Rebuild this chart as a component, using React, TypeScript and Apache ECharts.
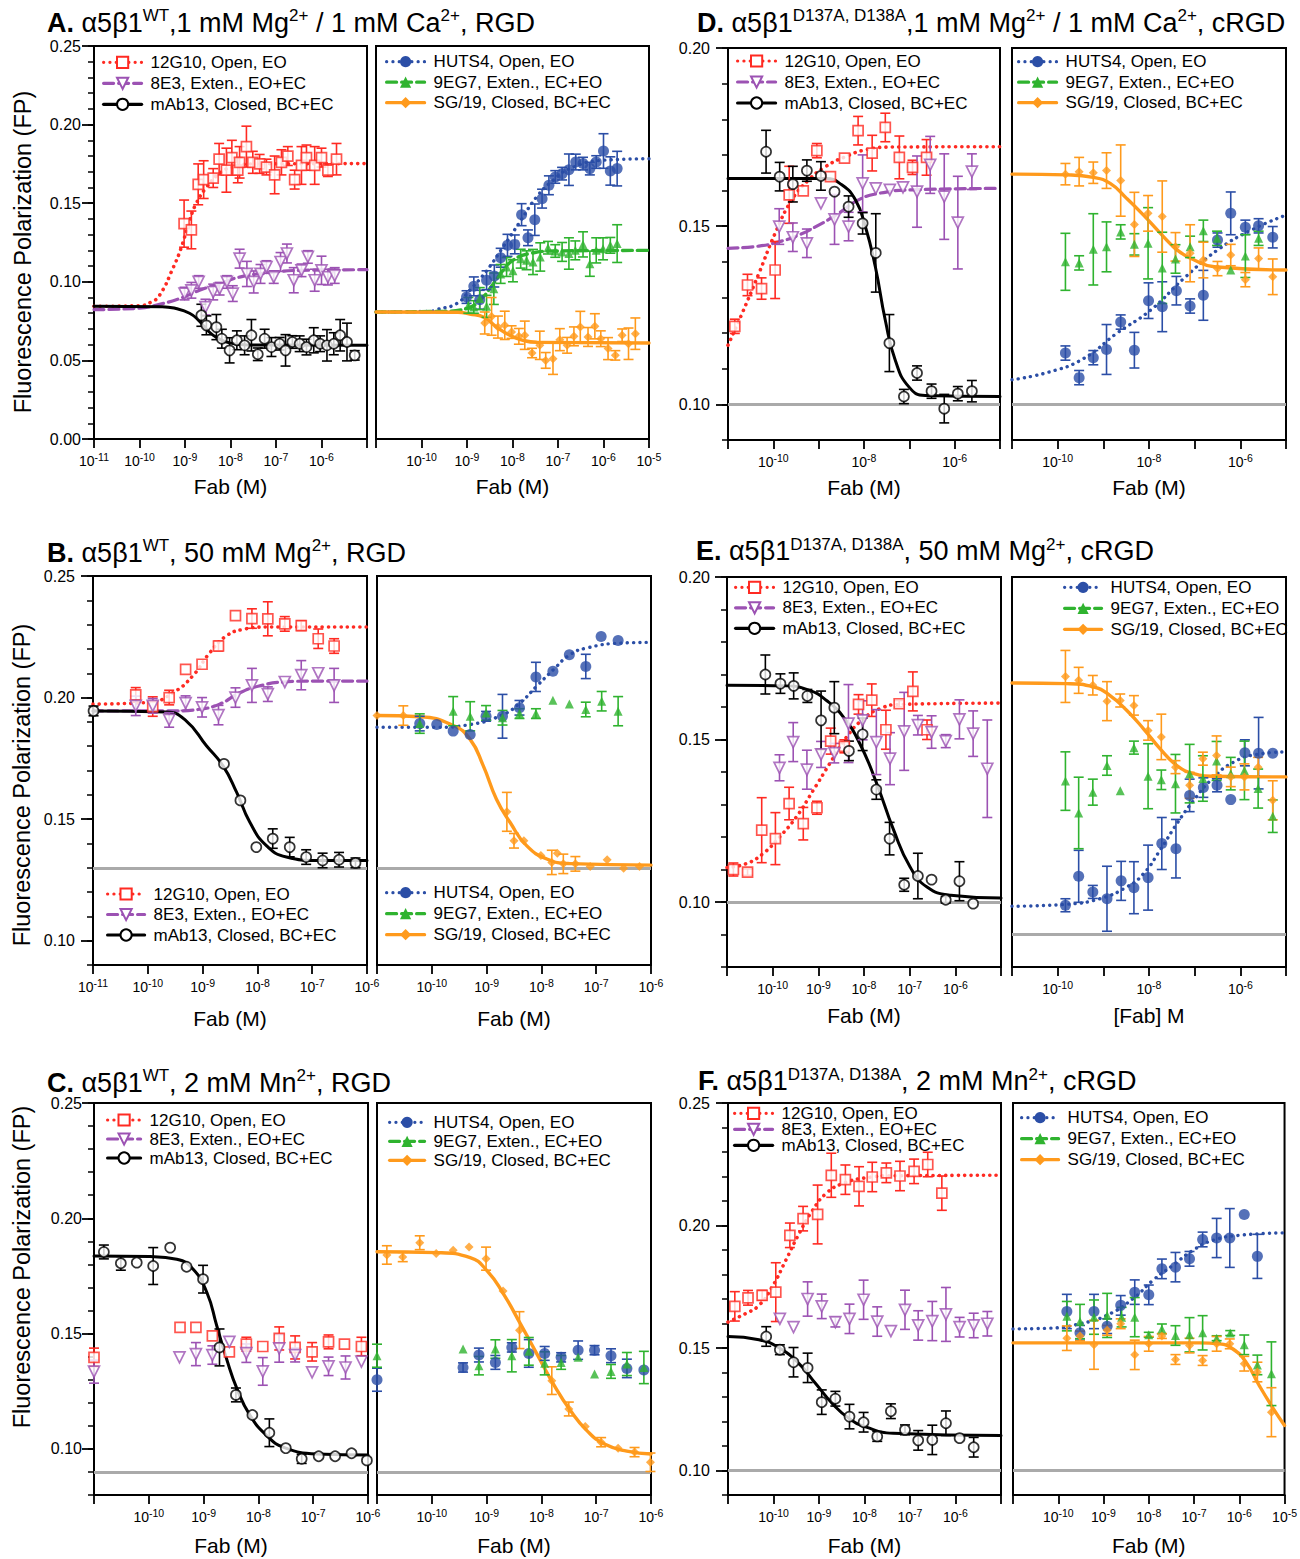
import React, { useEffect, useRef } from 'react';
import * as echarts from 'echarts';

type P = [number, number, number]; // [log10 conc (M), FP, error]
type F = [number, number]; // fitted curve [log10 conc, FP]

// ---------- Panel A (WT, 1 mM Mg / 1 mM Ca, RGD) ----------
const aL_12G10: P[] = [[-9.02,0.137,0.015],[-8.86,0.133,0.012],[-8.71,0.162,0.013],[-8.59,0.165,0.012],[-8.38,0.166,0.006],[-8.25,0.178,0.01],[-8.09,0.171,0.014],[-7.97,0.179,0.011],[-7.84,0.171,0.008],[-7.8,0.176,0.01],[-7.65,0.186,0.013],[-7.51,0.176,0.007],[-7.36,0.175,0.006],[-7.21,0.173,0.005],[-7.03,0.168,0.012],[-6.88,0.176,0.008],[-6.74,0.18,0.006],[-6.59,0.165,0.006],[-6.44,0.174,0.012],[-6.33,0.179,0.008],[-6.15,0.174,0.012],[-6.0,0.179,0.006],[-5.86,0.171,0.004],[-5.67,0.178,0.01]];
const aL_12G10_fit: F[] = [[-11,0.0844],[-10,0.0848],[-9.75,0.087],[-9.56,0.0914],[-9.26,0.109],[-9.08,0.122],[-8.9,0.139],[-8.75,0.15],[-8.53,0.16],[-8.24,0.169],[-7.95,0.173],[-7.5,0.175],[-5,0.1752]];
const aL_8E3: P[] = [[-9.01,0.0925,0.004],[-8.86,0.0946,0.005],[-8.7,0.0999,0.004],[-8.55,0.0839,0.005],[-8.38,0.0935,0.005],[-8.24,0.0956,0.004],[-8.08,0.0999,0.004],[-7.95,0.0925,0.005],[-7.8,0.1147,0.006],[-7.64,0.105,0.008],[-7.49,0.0999,0.007],[-7.34,0.105,0.006],[-7.21,0.1094,0.004],[-7.05,0.103,0.004],[-6.9,0.1126,0.006],[-6.76,0.118,0.006],[-6.61,0.101,0.008],[-6.44,0.1073,0.004],[-6.3,0.1158,0.004],[-6.15,0.101,0.007],[-6.0,0.1073,0.009],[-5.86,0.103,0.005],[-5.71,0.104,0.005]];
const aL_8E3_fit: F[] = [[-11,0.0823],[-10,0.0832],[-9.56,0.0857],[-9.12,0.0893],[-8.68,0.0946],[-8.24,0.0988],[-7.8,0.103],[-7.21,0.1056],[-6.48,0.1073],[-5,0.1077]];
const aL_mAb13: P[] = [[-8.64,0.0787,0.007],[-8.53,0.0723,0.006],[-8.31,0.0712,0.008],[-8.19,0.0638,0.006],[-8.02,0.0564,0.008],[-7.86,0.0628,0.006],[-7.69,0.0596,0.006],[-7.54,0.066,0.01],[-7.4,0.0539,0.004],[-7.25,0.0638,0.006],[-7.1,0.0585,0.006],[-6.92,0.0606,0.004],[-6.79,0.0564,0.01],[-6.64,0.0617,0.004],[-6.48,0.0606,0.005],[-6.33,0.0585,0.005],[-6.17,0.0628,0.008],[-6.03,0.0606,0.005],[-5.88,0.0596,0.01],[-5.73,0.0606,0.007],[-5.59,0.066,0.01],[-5.44,0.0617,0.012],[-5.27,0.0532,0.003]];
const aL_mAb13_fit: F[] = [[-11,0.0844],[-9.5,0.0842],[-9.2,0.083],[-8.9,0.08],[-8.7,0.0755],[-8.5,0.069],[-8.3,0.0645],[-8.0,0.061],[-7.6,0.0598],[-5,0.0596]];
const aR_HUTS4: P[] = [[-9.01,0.0903,0.004],[-8.85,0.0971,0.006],[-8.72,0.0886,0.006],[-8.57,0.101,0.006],[-8.4,0.1037,0.007],[-8.26,0.1153,0.006],[-8.11,0.1232,0.007],[-7.95,0.1238,0.006],[-7.8,0.1427,0.007],[-7.66,0.128,0.005],[-7.51,0.1395,0.01],[-7.35,0.1529,0.006],[-7.2,0.1614,0.006],[-7.06,0.1667,0.004],[-6.91,0.1688,0.004],[-6.76,0.1713,0.01],[-6.61,0.1762,0.005],[-6.45,0.1752,0.004],[-6.3,0.172,0.004],[-6.16,0.1762,0.004],[-6.0,0.1832,0.011],[-5.85,0.1705,0.009],[-5.7,0.172,0.011]];
const aR_HUTS4_fit: F[] = [[-11,0.0808],[-9.8,0.0812],[-9.67,0.0823],[-9.23,0.0861],[-8.94,0.0946],[-8.57,0.107],[-8.21,0.122],[-7.84,0.138],[-7.47,0.154],[-7.11,0.1645],[-6.74,0.172],[-6.01,0.1773],[-5,0.1783]];
const aR_9EG7: P[] = [[-8.97,0.085,0.005],[-8.85,0.084,0.004],[-8.72,0.0893,0.007],[-8.57,0.0844,0.007],[-8.41,0.0956,0.01],[-8.26,0.105,0.006],[-8.13,0.1094,0.006],[-7.99,0.107,0.007],[-7.82,0.1147,0.006],[-7.69,0.1137,0.006],[-7.55,0.1126,0.008],[-7.39,0.1158,0.009],[-7.22,0.1217,0.004],[-7.06,0.1196,0.004],[-6.91,0.119,0.006],[-6.76,0.118,0.01],[-6.62,0.12,0.006],[-6.45,0.1238,0.008],[-6.3,0.1115,0.008],[-6.16,0.12,0.008],[-6.01,0.121,0.007],[-5.85,0.1232,0.005],[-5.7,0.1243,0.012]];
const aR_9EG7_fit: F[] = [[-11,0.0808],[-9.5,0.0812],[-9.01,0.083],[-8.72,0.0882],[-8.42,0.0988],[-8.21,0.1073],[-7.99,0.1137],[-7.62,0.118],[-7.04,0.1196],[-5,0.12]];
const aR_SG19: P[] = [[-8.61,0.0738,0.007],[-8.46,0.078,0.012],[-8.32,0.0712,0.007],[-8.17,0.0723,0.009],[-8.02,0.068,0.004],[-7.86,0.0653,0.005],[-7.73,0.066,0.009],[-7.57,0.0547,0.003],[-7.4,0.0596,0.009],[-7.27,0.05,0.005],[-7.11,0.0511,0.01],[-6.96,0.0632,0.007],[-6.8,0.0596,0.005],[-6.65,0.0653,0.006],[-6.51,0.0712,0.01],[-6.34,0.0649,0.006],[-6.19,0.0717,0.008],[-6.06,0.0638,0.005],[-5.9,0.0575,0.007],[-5.74,0.0532,0.003],[-5.59,0.066,0.004],[-5.45,0.0606,0.01],[-5.3,0.067,0.01]];
const aR_SG19_fit: F[] = [[-11,0.0808],[-9.2,0.0806],[-8.94,0.0795],[-8.64,0.0776],[-8.35,0.0712],[-8.06,0.066],[-7.77,0.0628],[-7.47,0.0615],[-5,0.0611]];

// ---------- Panel B (WT, 50 mM Mg, RGD) ----------
const bL_12G10: P[] = [[-10.22,0.2011,0.003],[-9.91,0.1963,0.004],[-9.61,0.2,0.003],[-9.31,0.2116,0],[-9.01,0.2137,0],[-8.71,0.2212,0.002],[-8.4,0.2337,0],[-8.1,0.2325,0.004],[-7.81,0.2324,0.007],[-7.5,0.2303,0.003],[-7.2,0.2296,0.002],[-6.89,0.2242,0.004],[-6.6,0.2212,0.003]];
const bL_12G10_fit: F[] = [[-11,0.1973],[-9.97,0.198],[-9.54,0.202],[-9.18,0.2089],[-8.87,0.2184],[-8.57,0.2253],[-8.27,0.228],[-7.84,0.229],[-6,0.229]];
const bL_8E3: P[] = [[-10.22,0.1966,0.004],[-9.91,0.1966,0.003],[-9.61,0.1908,0.003],[-9.31,0.1977,0.003],[-9.01,0.196,0.004],[-8.71,0.1928,0.004],[-8.4,0.2,0.004],[-8.1,0.205,0.007],[-7.81,0.2014,0.003],[-7.5,0.2064,0],[-7.2,0.2092,0.006],[-6.89,0.21,0],[-6.6,0.205,0.007]];
const bL_8E3_fit: F[] = [[-11,0.1945],[-9.5,0.1945],[-9.05,0.1952],[-8.69,0.1973],[-8.32,0.202],[-7.96,0.2048],[-7.53,0.2064],[-6.92,0.2068],[-6,0.2068]];
const bL_mAb13: P[] = [[-10.99,0.1945,0.002],[-8.61,0.1727,0],[-8.31,0.1577,0],[-8.02,0.1385,0],[-7.72,0.142,0.004],[-7.41,0.1385,0.004],[-7.11,0.1344,0.003],[-6.81,0.133,0.003],[-6.51,0.1333,0.003],[-6.21,0.132,0.002]];
const bL_mAb13_fit: F[] = [[-11,0.1945],[-9.66,0.1941],[-9.3,0.1904],[-8.93,0.1802],[-8.63,0.172],[-8.38,0.1611],[-8.14,0.1488],[-7.84,0.1392],[-7.47,0.1344],[-6.92,0.133],[-6,0.133]];
const bR_HUTS4: P[] = [[-10.22,0.1893,0.003],[-9.91,0.1889,0],[-9.61,0.1862,0],[-9.3,0.1848,0],[-9.01,0.1923,0.002],[-8.71,0.1923,0.009],[-8.4,0.1958,0.003],[-8.1,0.2085,0.006],[-7.79,0.2108,0],[-7.49,0.2176,0],[-7.19,0.2128,0.005],[-6.91,0.2251,0],[-6.6,0.2235,0]];
const bR_HUTS4_fit: F[] = [[-11,0.1878],[-9.91,0.1878],[-9.3,0.1889],[-8.7,0.193],[-8.39,0.1978],[-8.09,0.2046],[-7.78,0.2115],[-7.48,0.2176],[-7.17,0.2204],[-6.56,0.2224],[-6,0.2227]];
const bR_9EG7: P[] = [[-10.22,0.1893,0.004],[-9.61,0.1944,0.006],[-9.3,0.1923,0.006],[-9.01,0.1937,0.003],[-8.71,0.1917,0.003],[-8.4,0.1934,0.002],[-8.1,0.1934,0.002],[-7.79,0.1989,0],[-7.49,0.1974,0],[-7.19,0.1951,0.003],[-6.9,0.1985,0.004],[-6.6,0.1944,0.006]];
const bR_SG19: P[] = [[-11.0,0.1926,0],[-10.52,0.1926,0.004],[-8.63,0.153,0.008],[-8.5,0.1411,0.003],[-8.32,0.1411,0],[-8.01,0.135,0],[-7.81,0.1322,0.005],[-7.71,0.136,0],[-7.6,0.1316,0.004],[-7.38,0.1316,0.003],[-7.11,0.1305,0],[-6.8,0.1333,0],[-6.5,0.1298,0],[-6.21,0.1305,0]];
const bR_SG19_fit: F[] = [[-11,0.1926],[-10.22,0.1921],[-9.61,0.1885],[-9.3,0.1828],[-9.06,0.1719],[-8.82,0.1582],[-8.57,0.1486],[-8.27,0.1391],[-7.9,0.1336],[-7.48,0.1317],[-6,0.1311]];

// ---------- Panel C (WT, 2 mM Mn, RGD) ----------
const cL_mAb13: P[] = [[-10.82,0.1854,0.003],[-10.51,0.1805,0.003],[-10.22,0.1808,0],[-9.92,0.1793,0.008],[-9.61,0.1873,0],[-9.31,0.179,0],[-9.01,0.1736,0.006],[-8.71,0.144,0.008],[-8.41,0.1234,0.003],[-8.11,0.1147,0],[-7.8,0.107,0.006],[-7.5,0.1003,0],[-7.21,0.0957,0.002],[-6.9,0.0968,0],[-6.6,0.0968,0],[-6.3,0.0981,0],[-6.02,0.095,0]];
const cL_mAb13_fit: F[] = [[-11,0.1837],[-9.98,0.1834],[-9.49,0.1822],[-9.19,0.1779],[-8.94,0.1678],[-8.76,0.1534],[-8.58,0.139],[-8.39,0.126],[-8.15,0.1144],[-7.85,0.1058],[-7.54,0.1007],[-6.93,0.0978],[-6,0.0974]];
const cL_12G10: P[] = [[-11.0,0.1397,0.004],[-9.43,0.1527,0],[-9.14,0.1527,0],[-8.84,0.149,0],[-8.53,0.1421,0],[-8.22,0.1454,0.003],[-7.92,0.1444,0],[-7.62,0.1479,0.005],[-7.33,0.144,0.005],[-7.02,0.1421,0.004],[-6.72,0.1464,0.003],[-6.43,0.1454,0],[-6.12,0.1444,0.004]];
const cL_8E3: P[] = [[-11.0,0.1335,0.005],[-9.44,0.1397,0],[-9.14,0.1411,0.005],[-8.84,0.1407,0.004],[-8.53,0.1464,0],[-8.22,0.1415,0.004],[-7.92,0.1336,0.006],[-7.62,0.1436,0.006],[-7.33,0.1407,0.003],[-7.02,0.1332,0],[-6.72,0.1358,0.004],[-6.41,0.1353,0.005],[-6.12,0.1378,0]];
const cR_SG19: P[] = [[-10.82,0.1841,0.004],[-10.53,0.1832,0.002],[-10.22,0.1894,0.003],[-9.92,0.1847,0],[-9.61,0.1861,0],[-9.32,0.1876,0],[-9.01,0.1825,0.005],[-8.7,0.1685,0],[-8.4,0.1515,0.008],[-7.81,0.1296,0.006],[-7.5,0.1173,0.003],[-7.2,0.1097,0],[-6.91,0.1029,0.002],[-6.6,0.1003,0],[-6.3,0.0986,0.002],[-6.01,0.0942,0.004]];
const cR_SG19_fit: F[] = [[-11,0.1855],[-9.91,0.1851],[-9.3,0.1829],[-8.99,0.1772],[-8.69,0.1671],[-8.38,0.1541],[-8.08,0.1411],[-7.78,0.1281],[-7.47,0.1166],[-7.17,0.1079],[-6.86,0.1022],[-6.44,0.099],[-6,0.0978]];
const cR_HUTS4: P[] = [[-11.0,0.13,0.005],[-9.43,0.1353,0.002],[-9.14,0.1407,0.003],[-8.84,0.1375,0.003],[-8.54,0.144,0.002],[-8.23,0.1414,0.006],[-7.94,0.1414,0.003],[-7.64,0.1397,0.002],[-7.33,0.1428,0.004],[-7.03,0.1428,0.002],[-6.73,0.1404,0.003],[-6.44,0.1349,0.004],[-6.13,0.1342,0]];
const cR_9EG7: P[] = [[-11.0,0.1404,0.005],[-9.43,0.1433,0],[-9.14,0.1361,0.004],[-8.84,0.1433,0.004],[-8.54,0.1404,0.007],[-8.23,0.1423,0.006],[-7.94,0.1371,0.005],[-7.64,0.1375,0.003],[-7.33,0.1397,0],[-7.03,0.1325,0],[-6.73,0.1336,0.003],[-6.44,0.1368,0.005],[-6.13,0.1353,0.007]];

// ---------- Panel D (D137A/D138A, 1 mM Mg / 1 mM Ca, cRGD) ----------
const dL_12G10: P[] = [[-10.85,0.1219,0.002],[-10.57,0.1335,0.003],[-10.26,0.1325,0.003],[-9.96,0.1377,0.008],[-9.65,0.1588,0.008],[-9.34,0.1599,0],[-9.04,0.1712,0.002],[-8.74,0.1639,0],[-8.43,0.1691,0],[-8.13,0.1768,0.004],[-7.82,0.1705,0.005],[-7.53,0.1777,0.004],[-7.22,0.1693,0.006],[-6.93,0.1665,0.002],[-6.62,0.1693,0.005]];
const dL_12G10_fit: F[] = [[-11,0.1166],[-10.69,0.1255],[-10.32,0.1367],[-9.96,0.148],[-9.59,0.1574],[-9.22,0.163],[-8.85,0.1667],[-8.41,0.1695],[-7.97,0.1714],[-7.38,0.1722],[-5,0.1723]];
const dL_8E3: P[] = [[-9.87,0.1499,0.005],[-9.57,0.1469,0.004],[-9.26,0.1452,0.004],[-8.95,0.1564,0],[-8.65,0.1519,0.007],[-8.34,0.1499,0.004],[-8.03,0.162,0.008],[-7.74,0.1606,0],[-7.43,0.1602,0],[-7.14,0.1609,0],[-6.83,0.1597,0.01],[-6.54,0.1672,0.008],[-6.23,0.1583,0.012],[-5.93,0.151,0.013],[-5.62,0.1653,0.005]];
const dL_8E3_fit: F[] = [[-11,0.1438],[-10.32,0.1444],[-9.88,0.1456],[-9.44,0.1475],[-9.0,0.1503],[-8.56,0.1536],[-8.12,0.1574],[-7.68,0.1592],[-6.94,0.1602],[-5,0.1606]];
const dL_mAb13: P[] = [[-10.16,0.1709,0.006],[-9.86,0.1639,0.004],[-9.57,0.1618,0.005],[-9.26,0.1656,0.003],[-8.95,0.1641,0.004],[-8.65,0.1597,0],[-8.34,0.1555,0.003],[-8.03,0.1508,0.003],[-7.74,0.1425,0.011],[-7.44,0.1172,0.008],[-7.12,0.1022,0.002],[-6.83,0.1088,0.002],[-6.51,0.1037,0.002],[-6.23,0.0988,0.004],[-5.93,0.103,0.002],[-5.62,0.1037,0.003]];
const dL_mAb13_fit: F[] = [[-11,0.1634],[-8.85,0.1634],[-8.49,0.1616],[-8.19,0.1574],[-7.97,0.1499],[-7.75,0.1386],[-7.53,0.1236],[-7.31,0.1124],[-7.01,0.1049],[-6.65,0.1025],[-5,0.1022]];
const dR_SG19: P[] = [[-9.83,0.1646,0.003],[-9.53,0.1653,0.004],[-9.22,0.165,0.003],[-8.93,0.1656,0.005],[-8.62,0.1628,0.01],[-8.32,0.1505,0.009],[-8.02,0.1536,0.005],[-7.71,0.1527,0.01],[-7.42,0.1442,0.004],[-7.1,0.1424,0.008],[-6.81,0.1405,0.005],[-6.5,0.1381,0.002],[-6.21,0.1419,0.003],[-5.89,0.135,0.002],[-5.6,0.1409,0.003],[-5.29,0.1358,0.005]];
const dR_SG19_fit: F[] = [[-11,0.1646],[-9.81,0.1644],[-9.22,0.1637],[-8.85,0.162],[-8.49,0.1578],[-8.12,0.1531],[-7.75,0.148],[-7.38,0.1433],[-7.01,0.1405],[-6.57,0.1386],[-5,0.1377]];
const dR_9EG7: P[] = [[-9.83,0.14,0.008],[-9.53,0.1397,0.002],[-9.22,0.1435,0.01],[-8.93,0.1442,0.007],[-8.62,0.1484,0.002],[-8.32,0.1449,0.003],[-8.02,0.1452,0.01],[-7.71,0.1383,0.01],[-7.42,0.1408,0.004],[-7.1,0.1442,0.003],[-6.81,0.1487,0.003],[-6.51,0.1466,0.002],[-6.21,0.1377,0],[-5.89,0.1416,0.006],[-5.6,0.1466,0.002]];
const dR_HUTS4: P[] = [[-9.83,0.1144,0.002],[-9.53,0.1075,0.002],[-9.22,0.1131,0.002],[-8.93,0.1154,0.007],[-8.62,0.1231,0.002],[-8.32,0.1152,0.005],[-8.01,0.1291,0.005],[-7.71,0.1274,0.007],[-7.4,0.1319,0.004],[-7.1,0.1276,0.002],[-6.81,0.1306,0.007],[-6.5,0.1461,0.002],[-6.21,0.1536,0.006],[-5.89,0.1497,0.002],[-5.6,0.1501,0.002],[-5.29,0.1469,0.003]];
const dR_HUTS4_fit: F[] = [[-11,0.1069],[-10.18,0.1091],[-9.44,0.1128],[-8.71,0.1199],[-7.97,0.1264],[-7.24,0.1353],[-6.5,0.1433],[-5.76,0.1489],[-5,0.1531]];

// ---------- Panel E (D137A/D138A, 50 mM Mg, cRGD) ----------
const eL_12G10: P[] = [[-10.86,0.11,0.002],[-10.55,0.1092,0.001],[-10.24,0.1221,0.01],[-9.94,0.1195,0.008],[-9.64,0.1303,0.005],[-9.33,0.1241,0.005],[-9.03,0.129,0.002],[-8.73,0.1495,0.004],[-8.43,0.1479,0.002],[-8.12,0.1608,0.003],[-7.83,0.1621,0.005],[-7.52,0.153,0.006],[-7.23,0.161,0.001],[-6.93,0.1648,0.006],[-6.62,0.153,0.003]];
const eL_12G10_fit: F[] = [[-11,0.1106],[-10.58,0.1118],[-10.21,0.1149],[-9.85,0.12],[-9.48,0.1262],[-9.11,0.1344],[-8.75,0.1426],[-8.38,0.1508],[-8.01,0.1564],[-7.65,0.1595],[-7.21,0.1608],[-5,0.1612]];
const eL_8E3: P[] = [[-9.85,0.1413,0.004],[-9.55,0.1492,0.006],[-9.25,0.1407,0.006],[-8.94,0.1454,0.004],[-8.65,0.1458,0.003],[-8.34,0.1549,0.012],[-8.03,0.1559,0.006],[-7.73,0.1492,0.01],[-7.43,0.1441,0.008],[-7.12,0.1525,0.012],[-6.82,0.1544,0.003],[-6.52,0.1523,0.005],[-6.21,0.1495,0.002],[-5.91,0.1562,0.006],[-5.61,0.1518,0.007],[-5.3,0.141,0.015]];
const eL_mAb13: P[] = [[-10.16,0.17,0.006],[-9.83,0.1672,0.003],[-9.54,0.1665,0.004],[-9.24,0.1634,0.002],[-8.94,0.1559,0.009],[-8.65,0.1598,0.008],[-8.33,0.1465,0.003],[-8.03,0.1516,0.005],[-7.73,0.1346,0.003],[-7.44,0.1195,0.005],[-7.12,0.1053,0.002],[-6.82,0.108,0.007],[-6.52,0.1069,0],[-6.21,0.1007,0.001],[-5.91,0.1064,0.006],[-5.61,0.0995,0]];
const eL_mAb13_fit: F[] = [[-11,0.1667],[-9.7,0.1665],[-9.19,0.1651],[-8.82,0.162],[-8.45,0.1569],[-8.09,0.1487],[-7.72,0.1364],[-7.35,0.1221],[-6.99,0.1108],[-6.62,0.1046],[-6.1,0.1021],[-5,0.1012]];
const eR_SG19: P[] = [[-9.83,0.1694,0.008],[-9.54,0.1682,0.004],[-9.23,0.1667,0.003],[-8.92,0.1618,0.006],[-8.63,0.162,0.002],[-8.33,0.1605,0.003],[-8.02,0.1528,0.003],[-7.73,0.1508,0.007],[-7.42,0.1415,0.002],[-7.11,0.1359,0.004],[-6.82,0.1441,0.002],[-6.52,0.1451,0.006],[-6.21,0.1385,0.003],[-5.91,0.1385,0.004],[-5.61,0.1415,0.003],[-5.29,0.1313,0.006]];
const eR_SG19_fit: F[] = [[-11,0.1674],[-9.81,0.1672],[-9.22,0.1662],[-8.86,0.1636],[-8.49,0.159],[-8.12,0.1533],[-7.76,0.1472],[-7.39,0.142],[-7.02,0.1395],[-6.58,0.1387],[-5,0.1385]];
const eR_9EG7: P[] = [[-9.83,0.1372,0.009],[-9.54,0.1274,0.011],[-9.23,0.1338,0.004],[-8.92,0.142,0.003],[-8.63,0.1342,0],[-8.33,0.1475,0.002],[-8.02,0.1387,0.01],[-7.73,0.1376,0.003],[-7.42,0.1364,0.009],[-7.11,0.1395,0.009],[-6.82,0.138,0.007],[-6.52,0.1434,0.006],[-6.21,0.1395,0.005],[-5.91,0.1405,0.009],[-5.61,0.1349,0.006],[-5.29,0.1264,0.005]];
const eR_HUTS4: P[] = [[-9.83,0.099,0.002],[-9.54,0.1079,0.008],[-9.23,0.1031,0.002],[-8.92,0.101,0.01],[-8.61,0.1065,0.006],[-8.33,0.1044,0.008],[-8.02,0.1075,0.01],[-7.72,0.118,0.008],[-7.41,0.1164,0.009],[-7.11,0.1328,0.005],[-6.81,0.1352,0.003],[-6.51,0.1359,0.002],[-6.21,0.1315,0],[-5.9,0.1459,0.004],[-5.6,0.1458,0.011],[-5.29,0.1458,0]];
const eR_HUTS4_fit: F[] = [[-11,0.0987],[-9.81,0.0993],[-9.08,0.101],[-8.49,0.1046],[-8.12,0.1087],[-7.76,0.1159],[-7.39,0.1241],[-7.02,0.1313],[-6.65,0.1374],[-6.14,0.1431],[-5.55,0.1456],[-5,0.1462]];

// ---------- Panel F (D137A/D138A, 2 mM Mn, cRGD) ----------
const fL_12G10: P[] = [[-10.85,0.167,0.006],[-10.56,0.1705,0.003],[-10.25,0.1715,0.002],[-9.95,0.1728,0.012],[-9.64,0.196,0.005],[-9.35,0.2028,0.005],[-9.03,0.2045,0.012],[-8.73,0.2205,0.009],[-8.42,0.2187,0.006],[-8.12,0.216,0.008],[-7.83,0.2198,0.006],[-7.52,0.2215,0.004],[-7.22,0.2202,0.006],[-6.91,0.2221,0.005],[-6.61,0.2249,0.005],[-6.3,0.2132,0.007]];
const fL_12G10_fit: F[] = [[-11,0.1606],[-10.62,0.164],[-10.32,0.1674],[-10.03,0.1749],[-9.73,0.1858],[-9.44,0.1966],[-9.14,0.2062],[-8.85,0.213],[-8.48,0.2171],[-7.96,0.2195],[-7.37,0.2203],[-5,0.2205]];
const fL_8E3: P[] = [[-9.86,0.1619,0],[-9.56,0.1585,0],[-9.25,0.17,0.007],[-8.94,0.167,0.005],[-8.64,0.1606,0.002],[-8.33,0.1619,0.006],[-8.02,0.1697,0.008],[-7.72,0.1608,0.006],[-7.42,0.1569,0],[-7.11,0.1656,0.008],[-6.82,0.1592,0.006],[-6.51,0.161,0.008],[-6.21,0.1637,0.011],[-5.91,0.1585,0.004],[-5.6,0.1592,0.005],[-5.3,0.1599,0.005]];
const fL_mAb13: P[] = [[-10.16,0.1547,0.004],[-9.86,0.1493,0.002],[-9.56,0.1442,0.006],[-9.25,0.1419,0.006],[-8.94,0.1279,0.005],[-8.64,0.1293,0.003],[-8.33,0.122,0.005],[-8.02,0.1197,0.004],[-7.72,0.1139,0.002],[-7.42,0.1242,0.003],[-7.11,0.1166,0.002],[-6.82,0.1123,0.004],[-6.51,0.1125,0.006],[-6.21,0.1193,0.005],[-5.91,0.1132,0],[-5.6,0.1095,0.004]];
const fL_mAb13_fit: F[] = [[-11,0.1547],[-10.32,0.1534],[-9.88,0.1501],[-9.44,0.1436],[-9.07,0.1354],[-8.7,0.1272],[-8.33,0.1211],[-7.96,0.1177],[-7.37,0.1152],[-5,0.1143]];
const fR_HUTS4: P[] = [[-9.81,0.1649,0.007],[-9.52,0.1562,0.003],[-9.21,0.1649,0.007],[-8.92,0.1589,0.003],[-8.62,0.1674,0.004],[-8.31,0.1728,0.005],[-8.0,0.1717,0.004],[-7.71,0.1823,0.004],[-7.41,0.183,0.006],[-7.1,0.1864,0.003],[-6.81,0.1943,0.003],[-6.5,0.1949,0.008],[-6.21,0.1949,0.012],[-5.89,0.2045,0],[-5.6,0.1874,0.009]];
const fR_HUTS4_fit: F[] = [[-11,0.1578],[-10.18,0.1581],[-9.52,0.1599],[-8.93,0.1633],[-8.35,0.1701],[-7.91,0.1776],[-7.47,0.1837],[-7.03,0.1898],[-6.59,0.1939],[-6.0,0.196],[-5,0.197]];
const fR_9EG7: P[] = [[-9.81,0.163,0.006],[-9.52,0.1608,0.007],[-9.21,0.1626,0.007],[-8.92,0.1633,0.009],[-8.6,0.1626,0.004],[-8.31,0.1626,0.008],[-8.0,0.1554,0.001],[-7.71,0.1578,0.002],[-7.41,0.1551,0.004],[-7.1,0.1554,0.007],[-6.81,0.1562,0.007],[-6.5,0.154,0.001],[-6.2,0.1561,0.001],[-5.89,0.1513,0.004],[-5.6,0.1431,0.004],[-5.29,0.1395,0.013]];
const fR_SG19: P[] = [[-9.81,0.154,0.005],[-9.52,0.1549,0.002],[-9.21,0.1513,0.01],[-8.92,0.1572,0.002],[-8.62,0.1599,0.002],[-8.31,0.1472,0.006],[-8.0,0.1517,0.003],[-7.71,0.1549,0.001],[-7.41,0.1453,0.002],[-7.1,0.151,0.003],[-6.81,0.1449,0.002],[-6.5,0.1517,0.003],[-6.21,0.1517,0.002],[-5.89,0.1436,0.003],[-5.6,0.1402,0.004],[-5.29,0.1238,0.01]];
const fR_SG19_fit: F[] = [[-11,0.1521],[-6.88,0.1521],[-6.44,0.1517],[-6.15,0.1497],[-5.85,0.1442],[-5.56,0.1347],[-5.27,0.1259],[-5,0.1184]];

// baselines (grey reference lines)
const baseB = 0.132;
const baseC = 0.0895;
const baseD = 0.1005;
const baseE_L = 0.1005;
const baseE_R = 0.0916;
const baseF = 0.1008;

// ---------- styles ----------
type Key = 'r' | 'p' | 'k' | 'b' | 'g' | 'o';
const FONT = '"Liberation Sans", Arial, Helvetica, sans-serif';
const DOT = [0.1, 6.2];
const DASH = [10, 5];
const ST: Record<Key, any> = {
  r: { name: '12G10, Open, EO', color: '#ff2a22', sym: 'rect', hollow: true, size: 10, rot: 0, dash: DOT, width: 3.6, leg: 'emptyRect' },
  p: { name: '8E3, Exten., EO+EC', color: '#9c52b3', sym: 'triangle', hollow: true, size: 11, rot: 180, dash: DASH, width: 3.2, leg: 'emptyTriangle' },
  k: { name: 'mAb13, Closed, BC+EC', color: '#000000', sym: 'circle', hollow: true, size: 10, rot: 0, dash: 'solid', width: 3, leg: 'emptyCircle' },
  b: { name: 'HUTS4, Open, EO', color: '#2b4ea6', sym: 'circle', hollow: false, size: 11, rot: 0, dash: DOT, width: 3.4, leg: 'circle' },
  g: { name: '9EG7, Exten., EC+EO', color: '#2fb32f', sym: 'triangle', hollow: false, size: 9, rot: 0, dash: DASH, width: 3.4, leg: 'triangle' },
  o: { name: 'SG/19, Closed, BC+EC', color: '#ff9a1c', sym: 'diamond', hollow: false, size: 9, rot: 0, dash: 'solid', width: 3.4, leg: 'diamond' },
};

interface SDef { k: Key; pts: P[]; fit?: F[] }
interface Sub {
  box: [number, number, number, number]; // left, top, width, height
  xmax: number; labels: number[]; xName: string; nameGap: number;
  legend: [number, number, number, number]; // left, top, gap, itemWidth
  legKeys: Key[]; baseline?: number; series: SDef[];
}
interface Panel { ymin: number; ymax: number; majors: number[]; lblMargin: number; title: string; tpos: [number, number]; yName?: [number, number]; subs: Sub[] }

const LEFT_KEYS: Key[] = ['r', 'p', 'k'];
const RIGHT_KEYS: Key[] = ['b', 'g', 'o'];

const PANELS: Panel[] = [
  {
    ymin: 0, ymax: 0.25, majors: [0, 0.05, 0.1, 0.15, 0.2, 0.25], lblMargin: 13,
    title: '{b|A.} α5β1{s|WT},1 mM Mg{s|2+} / 1 mM Ca{s|2+}, RGD', tpos: [47, 22.5], yName: [22.5, 252],
    subs: [
      { box: [94, 46, 273, 393], xmax: 1e-5, labels: [-11, -10, -9, -8, -7, -6], xName: 'Fab (M)', nameGap: 37,
        legend: [102, 53.8, 4, 38], legKeys: LEFT_KEYS,
        series: [{ k: 'r', pts: aL_12G10, fit: aL_12G10_fit }, { k: 'p', pts: aL_8E3, fit: aL_8E3_fit }, { k: 'k', pts: aL_mAb13, fit: aL_mAb13_fit }] },
      { box: [376, 46, 273, 393], xmax: 1e-5, labels: [-10, -9, -8, -7, -6, -5], xName: 'Fab (M)', nameGap: 37,
        legend: [385, 53.2, 3.5, 38], legKeys: RIGHT_KEYS,
        series: [{ k: 'b', pts: aR_HUTS4, fit: aR_HUTS4_fit }, { k: 'g', pts: aR_9EG7, fit: aR_9EG7_fit }, { k: 'o', pts: aR_SG19, fit: aR_SG19_fit }] },
    ],
  },
  {
    ymin: 0.09, ymax: 0.25, majors: [0.1, 0.15, 0.2, 0.25], lblMargin: 18,
    title: '{b|B.} α5β1{s|WT}, 50 mM Mg{s|2+}, RGD', tpos: [47, 552.5], yName: [22, 785],
    subs: [
      { box: [93, 576, 274, 389], xmax: 1e-6, labels: [-11, -10, -9, -8, -7, -6], xName: 'Fab (M)', nameGap: 43,
        legend: [106, 885.5, 3.5, 37], legKeys: LEFT_KEYS, baseline: baseB,
        series: [{ k: 'r', pts: bL_12G10, fit: bL_12G10_fit }, { k: 'p', pts: bL_8E3, fit: bL_8E3_fit }, { k: 'k', pts: bL_mAb13, fit: bL_mAb13_fit }] },
      { box: [377, 576, 274, 389], xmax: 1e-6, labels: [-10, -9, -8, -7, -6], xName: 'Fab (M)', nameGap: 43,
        legend: [385, 884.2, 4, 38], legKeys: RIGHT_KEYS, baseline: baseB,
        series: [{ k: 'b', pts: bR_HUTS4, fit: bR_HUTS4_fit }, { k: 'g', pts: bR_9EG7 }, { k: 'o', pts: bR_SG19, fit: bR_SG19_fit }] },
    ],
  },
  {
    ymin: 0.08, ymax: 0.25, majors: [0.1, 0.15, 0.2, 0.25], lblMargin: 12,
    title: '{b|C.} α5β1{s|WT}, 2 mM Mn{s|2+}, RGD', tpos: [47, 1082.5], yName: [22, 1267],
    subs: [
      { box: [94, 1103, 274, 392], xmax: 1e-6, labels: [-10, -9, -8, -7, -6], xName: 'Fab (M)', nameGap: 40,
        legend: [106, 1111.5, 2, 33], legKeys: LEFT_KEYS, baseline: baseC,
        series: [{ k: 'r', pts: cL_12G10 }, { k: 'p', pts: cL_8E3 }, { k: 'k', pts: cL_mAb13, fit: cL_mAb13_fit }] },
      { box: [377, 1103, 274, 392], xmax: 1e-6, labels: [-10, -9, -8, -7, -6], xName: 'Fab (M)', nameGap: 40,
        legend: [388, 1113.8, 2, 35], legKeys: RIGHT_KEYS, baseline: baseC,
        series: [{ k: 'b', pts: cR_HUTS4 }, { k: 'g', pts: cR_9EG7 }, { k: 'o', pts: cR_SG19, fit: cR_SG19_fit }] },
    ],
  },
  {
    ymin: 0.09, ymax: 0.2, majors: [0.1, 0.15, 0.2], lblMargin: 18,
    title: '{b|D.} α5β1{s|D137A, D138A},1 mM Mg{s|2+} / 1 mM Ca{s|2+}, cRGD', tpos: [697, 22.5],
    subs: [
      { box: [728, 48, 272, 392], xmax: 1e-5, labels: [-10, -8, -6], xName: 'Fab (M)', nameGap: 37,
        legend: [736, 52.5, 4, 38], legKeys: LEFT_KEYS, baseline: baseD,
        series: [{ k: 'r', pts: dL_12G10, fit: dL_12G10_fit }, { k: 'p', pts: dL_8E3, fit: dL_8E3_fit }, { k: 'k', pts: dL_mAb13, fit: dL_mAb13_fit }] },
      { box: [1012, 48, 274, 392], xmax: 1e-5, labels: [-10, -8, -6], xName: 'Fab (M)', nameGap: 37,
        legend: [1017, 53.2, 3.5, 38], legKeys: RIGHT_KEYS, baseline: baseD,
        series: [{ k: 'b', pts: dR_HUTS4, fit: dR_HUTS4_fit }, { k: 'g', pts: dR_9EG7 }, { k: 'o', pts: dR_SG19, fit: dR_SG19_fit }] },
    ],
  },
  {
    ymin: 0.08, ymax: 0.2, majors: [0.1, 0.15, 0.2], lblMargin: 17,
    title: '{b|E.} α5β1{s|D137A, D138A}, 50 mM Mg{s|2+}, cRGD', tpos: [696, 551],
    subs: [
      { box: [727, 577, 274, 390], xmax: 1e-5, labels: [-10, -9, -8, -7, -6], xName: 'Fab (M)', nameGap: 38,
        legend: [734, 578.8, 3.5, 38], legKeys: LEFT_KEYS, baseline: baseE_L,
        series: [{ k: 'r', pts: eL_12G10, fit: eL_12G10_fit }, { k: 'p', pts: eL_8E3 }, { k: 'k', pts: eL_mAb13, fit: eL_mAb13_fit }] },
      { box: [1012, 577, 274, 390], xmax: 1e-5, labels: [-10, -8, -6], xName: '[Fab] M', nameGap: 38,
        legend: [1063, 578.8, 4, 37], legKeys: RIGHT_KEYS, baseline: baseE_R,
        series: [{ k: 'b', pts: eR_HUTS4, fit: eR_HUTS4_fit }, { k: 'g', pts: eR_9EG7 }, { k: 'o', pts: eR_SG19, fit: eR_SG19_fit }] },
    ],
  },
  {
    ymin: 0.09, ymax: 0.25, majors: [0.1, 0.15, 0.2, 0.25], lblMargin: 18,
    title: '{b|F.} α5β1{s|D137A, D138A}, 2 mM Mn{s|2+}, cRGD', tpos: [698, 1081],
    subs: [
      { box: [728, 1103, 273, 392], xmax: 1e-5, labels: [-10, -9, -8, -7, -6], xName: 'Fab (M)', nameGap: 40,
        legend: [733, 1104.8, -1, 38], legKeys: LEFT_KEYS, baseline: baseF,
        series: [{ k: 'r', pts: fL_12G10, fit: fL_12G10_fit }, { k: 'p', pts: fL_8E3 }, { k: 'k', pts: fL_mAb13, fit: fL_mAb13_fit }] },
      { box: [1013, 1103, 273, 392], xmax: 1e-5, labels: [-10, -9, -8, -7, -6, -5], xName: 'Fab (M)', nameGap: 40,
        legend: [1020, 1109.2, 4, 37], legKeys: RIGHT_KEYS, baseline: baseF,
        series: [{ k: 'b', pts: fR_HUTS4, fit: fR_HUTS4_fit }, { k: 'g', pts: fR_9EG7 }, { k: 'o', pts: fR_SG19, fit: fR_SG19_fit }] },
    ],
  },
];

const errRender = (color: string) => (_p: any, api: any) => {
  const x = api.value(0);
  const y = api.value(1);
  const e = api.value(2);
  if (!e) return { type: 'group', children: [] };
  const t = api.coord([x, y + e]);
  const b = api.coord([x, y - e]);
  const w = 5;
  const st = { stroke: color, lineWidth: 1.6 };
  return {
    type: 'group',
    children: [
      { type: 'line', shape: { x1: t[0], y1: t[1], x2: b[0], y2: b[1] }, style: st },
      { type: 'line', shape: { x1: t[0] - w, y1: t[1], x2: t[0] + w, y2: t[1] }, style: st },
      { type: 'line', shape: { x1: b[0] - w, y1: b[1], x2: b[0] + w, y2: b[1] }, style: st },
    ],
  };
};

function buildOption() {
  const grid: any[] = [];
  const xAxis: any[] = [];
  const yAxis: any[] = [];
  const series: any[] = [];
  const legend: any[] = [];
  const graphic: any[] = [];

  PANELS.forEach((pn) => {
    graphic.push({
      type: 'text', x: pn.tpos[0], y: pn.tpos[1], z: 10,
      style: {
        text: pn.title, fill: '#000', fontSize: 27, fontFamily: FONT, lineHeight: 31,
        align: 'left', verticalAlign: 'middle',
        rich: {
          b: { fontSize: 27, fontWeight: 'bold', fontFamily: FONT, lineHeight: 31, fill: '#000' },
          s: { fontSize: 17, fontFamily: FONT, lineHeight: 17, verticalAlign: 'top', fill: '#000' },
        },
      },
    });
    if (pn.yName) {
      graphic.push({
        type: 'text', x: pn.yName[0], y: pn.yName[1], rotation: Math.PI / 2, z: 10,
        style: { text: 'Fluorescence Polarization (FP)', fill: '#000', fontSize: 23.5, fontFamily: FONT, align: 'center', verticalAlign: 'middle' },
      });
    }
    pn.subs.forEach((sb, j) => {
      const g = grid.length;
      grid.push({ left: sb.box[0], top: sb.box[1], width: sb.box[2], height: sb.box[3], show: true, borderColor: '#000', borderWidth: 2, backgroundColor: 'transparent' });
      const labels = sb.labels;
      xAxis.push({
        type: 'log', logBase: 10, gridIndex: g, min: 1e-11, max: sb.xmax, splitNumber: 6, position: 'bottom',
        axisLine: { show: true, lineStyle: { color: '#000', width: 2 } },
        axisTick: { show: true, length: 9, lineStyle: { color: '#000', width: 1.8 } },
        splitLine: { show: false }, minorTick: { show: false },
        axisLabel: {
          show: true, interval: 0, margin: 12, showMinLabel: true, showMaxLabel: true, color: '#000',
          formatter: (v: number) => {
            const e = Math.round(Math.log10(v));
            return labels.indexOf(e) >= 0 ? `{b|10}{s|${e}}` : '';
          },
          rich: {
            b: { fontSize: 14, lineHeight: 19, fontFamily: FONT, color: '#000' },
            s: { fontSize: 10.5, lineHeight: 10, verticalAlign: 'top', fontFamily: FONT, color: '#000' },
          },
        },
        name: sb.xName, nameLocation: 'middle', nameGap: sb.nameGap,
        nameTextStyle: { fontSize: 21, color: '#000', fontFamily: FONT },
      });
      const yIdx = yAxis.length;
      if (j === 0) {
        yAxis.push({
          type: 'value', gridIndex: g, min: pn.ymin, max: pn.ymax, position: 'left', offset: 0,
          axisLine: { show: true, lineStyle: { color: '#000', width: 2 } },
          axisTick: { show: true, length: 12, customValues: pn.majors, lineStyle: { color: '#000', width: 1.8 } },
          axisLabel: { show: true, customValues: pn.majors, margin: pn.lblMargin, fontSize: 16, fontFamily: FONT, color: '#000', formatter: (v: number) => v.toFixed(2) },
          splitLine: { show: false },
        });
        yAxis.push({
          type: 'value', gridIndex: g, min: pn.ymin, max: pn.ymax, interval: 0.01, position: 'left', offset: 0,
          axisLine: { show: false },
          axisTick: { show: true, length: 6, lineStyle: { color: '#000', width: 1.5 } },
          axisLabel: { show: false }, splitLine: { show: false },
        });
      } else {
        yAxis.push({ type: 'value', gridIndex: g, min: pn.ymin, max: pn.ymax, position: 'left', show: false, splitLine: { show: false } });
      }

      sb.series.forEach((sd, si) => {
        const st = ST[sd.k];
        if (sd.fit) {
          series.push({
            type: 'line', name: st.name, xAxisIndex: g, yAxisIndex: yIdx,
            data: sd.fit.map(([lx, y]) => [Math.pow(10, lx), y]),
            smooth: 0.5, showSymbol: false,
            symbol: st.leg, symbolRotate: st.rot, symbolSize: st.size,
            lineStyle: { color: st.color, width: st.width, type: st.dash, cap: 'round' },
            itemStyle: { color: st.color },
            z: 3, silent: true, animation: false,
          });
        }
        series.push({
          type: 'custom', xAxisIndex: g, yAxisIndex: yIdx,
          data: sd.pts.map(([lx, y, e]) => [Math.pow(10, lx), y, e]),
          encode: { x: 0, y: 1 },
          renderItem: errRender(st.color), z: 4, silent: true, animation: false,
        });
        const sc: any = {
          type: 'scatter', xAxisIndex: g, yAxisIndex: yIdx,
          data: sd.pts.map(([lx, y]) => [Math.pow(10, lx), y]),
          symbol: st.sym, symbolSize: st.size, symbolRotate: st.rot,
          itemStyle: st.hollow ? { color: '#fff', borderColor: st.color, borderWidth: 1.7 } : { color: st.color },
          z: 5, silent: true, animation: false,
        };
        if (si === 0 && sb.baseline != null) {
          sc.markLine = {
            silent: true, symbol: ['none', 'none'], label: { show: false }, animation: false,
            lineStyle: { color: '#aaaaaa', width: 3, type: 'solid' },
            data: [{ yAxis: sb.baseline }], z: 1,
          };
        }
        series.push(sc);
      });

      legend.push({
        left: sb.legend[0], top: sb.legend[1], orient: 'vertical', padding: 0,
        itemGap: sb.legend[2], itemWidth: sb.legend[3], itemHeight: 14,
        selectedMode: false,
        lineStyle: { width: 3.2, cap: 'round' },
        textStyle: { fontSize: 17, fontFamily: FONT, color: '#000', padding: [0, 0, 0, 4] },
        data: sb.legKeys.map((k) => ST[k].name),
      });
    });
  });

  return {
    animation: false,
    backgroundColor: '#ffffff',
    grid, xAxis, yAxis, series, legend, graphic,
  };
}

export default function App() {
  const ref = useRef<HTMLDivElement>(null);
  useEffect(() => {
    if (!ref.current) return;
    const chart = echarts.init(ref.current, undefined, { renderer: 'svg' });
    chart.setOption(buildOption() as any);
    return () => chart.dispose();
  }, []);
  return <div ref={ref} style={{ position: 'absolute', left: 0, top: 0, width: 1300, height: 1559, background: '#fff' }} />;
}
